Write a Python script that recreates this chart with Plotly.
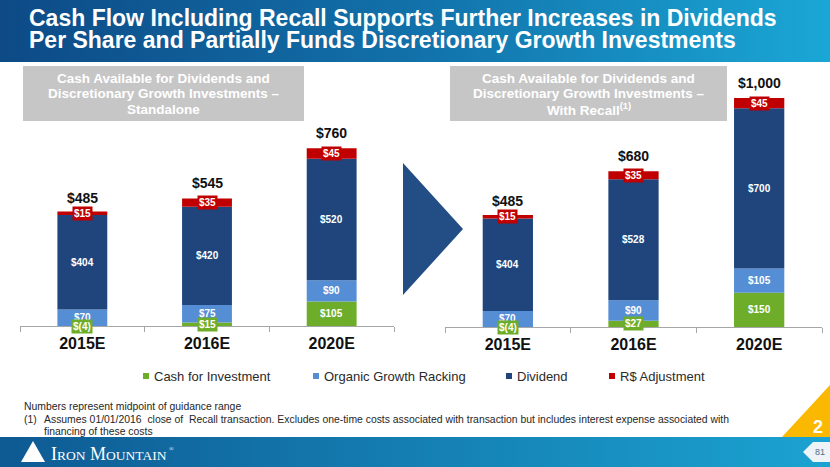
import plotly.graph_objects as go

# ---------------- data ----------------
categories = ["2015E", "2016E", "2020E"]
series_names = ["Cash for Investment", "Organic Growth Racking", "Dividend", "R$ Adjustment"]
series_colors = ["#6EAD2A", "#558ED5", "#1F457C", "#C00000"]

standalone_cash = [-4, 15, 105]
standalone_organic = [70, 75, 90]
standalone_dividend = [404, 420, 520]
standalone_adjust = [15, 35, 45]
standalone_totals = [485, 545, 760]

recall_cash = [-4, 27, 150]
recall_organic = [70, 90, 105]
recall_dividend = [404, 528, 700]
recall_adjust = [15, 35, 45]
recall_totals = [485, 680, 1000]

title_lines = ["Cash Flow Including Recall Supports Further Increases in Dividends",
               "Per Share and Partially Funds Discretionary Growth Investments"]
panel_titles = [["Cash Available for Dividends and", "Discretionary Growth Investments \u2013", "Standalone"],
                ["Cash Available for Dividends and", "Discretionary Growth Investments \u2013", "With Recall<sup>(1)</sup>"]]
footnotes = ["Numbers represent midpoint of guidance range",
             "Assumes 01/01/2016  close of  Recall transaction. Excludes one-time costs associated with transaction but includes interest expense associated with",
             "financing of these costs"]

# ---------------- layout helpers ----------------
W, H = 830, 467
FONT = "Liberation Sans, Arial, sans-serif"


def money(v):
    return f"$({abs(v)})" if v < 0 else f"${v:,}"


def fy(p):
    return 1 - p / H


fig = go.Figure()

panels = [
    dict(series=[standalone_cash, standalone_organic, standalone_dividend, standalone_adjust],
         totals=standalone_totals, xa="x", ya="y"),
    dict(series=[recall_cash, recall_organic, recall_dividend, recall_adjust],
         totals=recall_totals, xa="x2", ya="y2"),
]

annotations = []
for p in panels:
    labels_by_series = []
    pos = [0] * len(categories)
    neg = [0] * len(categories)
    for name, color, vals in zip(series_names, series_colors, p["series"]):
        fig.add_trace(go.Bar(
            x=categories, y=vals, name=name, width=0.4,
            marker=dict(color=color, line=dict(width=0)),
            showlegend=False, hoverinfo="skip",
            xaxis=p["xa"], yaxis=p["ya"]))
        labs = []
        for i, v in enumerate(vals):
            if v >= 0:
                mid = pos[i] + v / 2
                pos[i] += v
            else:
                mid = neg[i] + v / 2
                neg[i] += v
            labs.append(dict(x=categories[i], y=mid, xref=p["xa"], yref=p["ya"],
                             text=f"<b>{money(v)}</b>", showarrow=False,
                             font=dict(size=10, color="white", family=FONT),
                             bgcolor=color, borderpad=1))
        labels_by_series.append(labs)
    for k in [1, 2, 3, 0]:
        annotations.extend(labels_by_series[k])
    for c, t in zip(categories, p["totals"]):
        annotations.append(dict(x=c, y=t, xref=p["xa"], yref=p["ya"], text=f"<b>{money(t)}</b>",
                                showarrow=False, yshift=15, yanchor="middle",
                                font=dict(size=14, color="#111111", family=FONT)))

# decorative bands (header / footer) with gradient fill
fig.add_trace(go.Scatter(x=[0, W, W, 0, 0], y=[0, 0, 62, 62, 0], mode="lines", fill="toself",
                         line=dict(width=0),
                         fillgradient=dict(type="horizontal",
                                           colorscale=[[0, "#0D4A86"], [0.5, "#1271AA"], [1, "#1AA7D5"]]),
                         xaxis="x3", yaxis="y3", hoverinfo="skip", showlegend=False))
fig.add_trace(go.Scatter(x=[0, W, W, 0, 0], y=[437, 437, H, H, 437], mode="lines", fill="toself",
                         line=dict(width=0),
                         fillgradient=dict(type="horizontal",
                                           colorscale=[[0, "#0E5A93"], [1, "#1BA3D1"]]),
                         xaxis="x3", yaxis="y3", hoverinfo="skip", showlegend=False))

shapes = []
# panel header boxes
for (x0, x1) in [(23, 304), (450, 727)]:
    shapes.append(dict(type="rect", xref="x3", yref="y3", x0=x0, x1=x1, y0=66, y1=121,
                       fillcolor="#C6C6C6", line=dict(width=0), layer="below"))
# arrow
shapes.append(dict(type="path", xref="x3", yref="y3", path="M403,163 L463,229 L403,295 Z",
                   fillcolor="#224D85", line=dict(width=0), layer="below"))
# yellow corner
shapes.append(dict(type="path", xref="x3", yref="y3", path="M782,437 L830,385 L830,437 Z",
                   fillcolor="#FBB800", line=dict(width=0), layer="above"))
# page tab
shapes.append(dict(type="path", xref="x3", yref="y3", path="M803,452 L813,442 L830,442 L830,462 L813,462 Z",
                   fillcolor="#EEF3F7", line=dict(width=0), layer="above"))
# logo triangle
shapes.append(dict(type="path", xref="x3", yref="y3", path="M21,462 L33,441 L45,462 Z",
                   fillcolor="white", line=dict(width=0), layer="above"))

# legend (manual)
legend_x = [143, 313, 506, 609]
for lx, name, color in zip(legend_x, series_names, series_colors):
    shapes.append(dict(type="rect", xref="x3", yref="y3", x0=lx, x1=lx + 6, y0=373, y1=379,
                       fillcolor=color, line=dict(width=0)))
    annotations.append(dict(x=lx + 9, y=376, xref="x3", yref="y3", text=name, showarrow=False,
                            xanchor="left", yanchor="middle",
                            font=dict(size=13, color="#2A2A2A", family=FONT)))

# title
for i, line in enumerate(title_lines):
    annotations.append(dict(x=27, y=17.5 + 22 * i, xref="x3", yref="y3", text=f"<b>{line}</b>",
                            showarrow=False, xanchor="left", yanchor="middle",
                            font=dict(size=23, color="white", family=FONT)))
# panel titles
for cx, lines in zip([163.5, 588.5], panel_titles):
    for i, line in enumerate(lines):
        annotations.append(dict(x=cx, y=78 + 15.5 * i, xref="x3", yref="y3", text=f"<b>{line}</b>",
                                showarrow=False, xanchor="center", yanchor="middle",
                                font=dict(size=13.5, color="white", family=FONT)))
# footnotes
FN = 10.4
annotations.append(dict(x=22, y=406, xref="x3", yref="y3", text=footnotes[0], showarrow=False,
                        xanchor="left", yanchor="middle", font=dict(size=FN, color="#262626", family=FONT)))
annotations.append(dict(x=22, y=419, xref="x3", yref="y3", text="(1)", showarrow=False,
                        xanchor="left", yanchor="middle", font=dict(size=FN, color="#262626", family=FONT)))
annotations.append(dict(x=42, y=419, xref="x3", yref="y3", text=footnotes[1], showarrow=False,
                        xanchor="left", yanchor="middle", font=dict(size=FN, color="#262626", family=FONT)))
annotations.append(dict(x=42, y=431, xref="x3", yref="y3", text=footnotes[2], showarrow=False,
                        xanchor="left", yanchor="middle", font=dict(size=FN, color="#262626", family=FONT)))
# logo text
annotations.append(dict(x=49, y=454, xref="x3", yref="y3",
                        text="I<span style='font-size:13.5px'>RON</span> M<span style='font-size:13.5px'>OUNTAIN</span>",
                        showarrow=False, xanchor="left", yanchor="middle",
                        font=dict(size=18, color="white", family="Liberation Serif, Times New Roman, serif")))
annotations.append(dict(x=167, y=449, xref="x3", yref="y3", text="\u00ae",
                        showarrow=False, xanchor="left", yanchor="middle",
                        font=dict(size=6, color="white", family="Liberation Serif, Times New Roman, serif")))
# page marks
annotations.append(dict(x=818, y=427, xref="x3", yref="y3", text="<b>2</b>", showarrow=False,
                        xanchor="center", yanchor="middle", font=dict(size=18, color="white", family=FONT)))
annotations.append(dict(x=820, y=452, xref="x3", yref="y3", text="81", showarrow=False,
                        xanchor="center", yanchor="middle", font=dict(size=9, color="#4F6E8F", family=FONT)))

sL = 0.234
sR = 0.229
axis_common = dict(type="category", showline=True, linecolor="#A6A6A6", linewidth=1,
                   ticks="outside", tickson="boundaries", ticklen=5, tickcolor="#A6A6A6",
                   tickfont=dict(size=16, color="#111111", family=FONT, weight="bold"),
                   showgrid=False, zeroline=False, range=[-0.5, 2.5], fixedrange=True,
                   anchor="free", ticklabelstandoff=3)

fig.update_layout(
    width=W, height=H, margin=dict(l=0, r=0, t=0, b=0),
    paper_bgcolor="white", plot_bgcolor="rgba(0,0,0,0)",
    barmode="relative", showlegend=False,
    xaxis=dict(axis_common, domain=[20 / W, 394 / W], position=fy(326)),
    yaxis=dict(domain=[fy(340), fy(60)], range=[-(340 - 326) / sL, (326 - 60) / sL],
               visible=False, showgrid=False, zeroline=False, fixedrange=True),
    xaxis2=dict(axis_common, domain=[445 / W, 822 / W], position=fy(327)),
    yaxis2=dict(domain=[fy(340), fy(60)], range=[-(340 - 327) / sR, (327 - 60) / sR],
                visible=False, showgrid=False, zeroline=False, fixedrange=True),
    xaxis3=dict(domain=[0, 1], range=[0, W], visible=False, fixedrange=True, anchor="y3"),
    yaxis3=dict(domain=[0, 1], range=[H, 0], visible=False, fixedrange=True, anchor="x3"),
    shapes=shapes, annotations=annotations,
    font=dict(family=FONT),
)

fig.write_html("out.html", config={"displayModeBar": False},
               post_script="document.body.style.margin='0';document.body.style.padding='0';")
